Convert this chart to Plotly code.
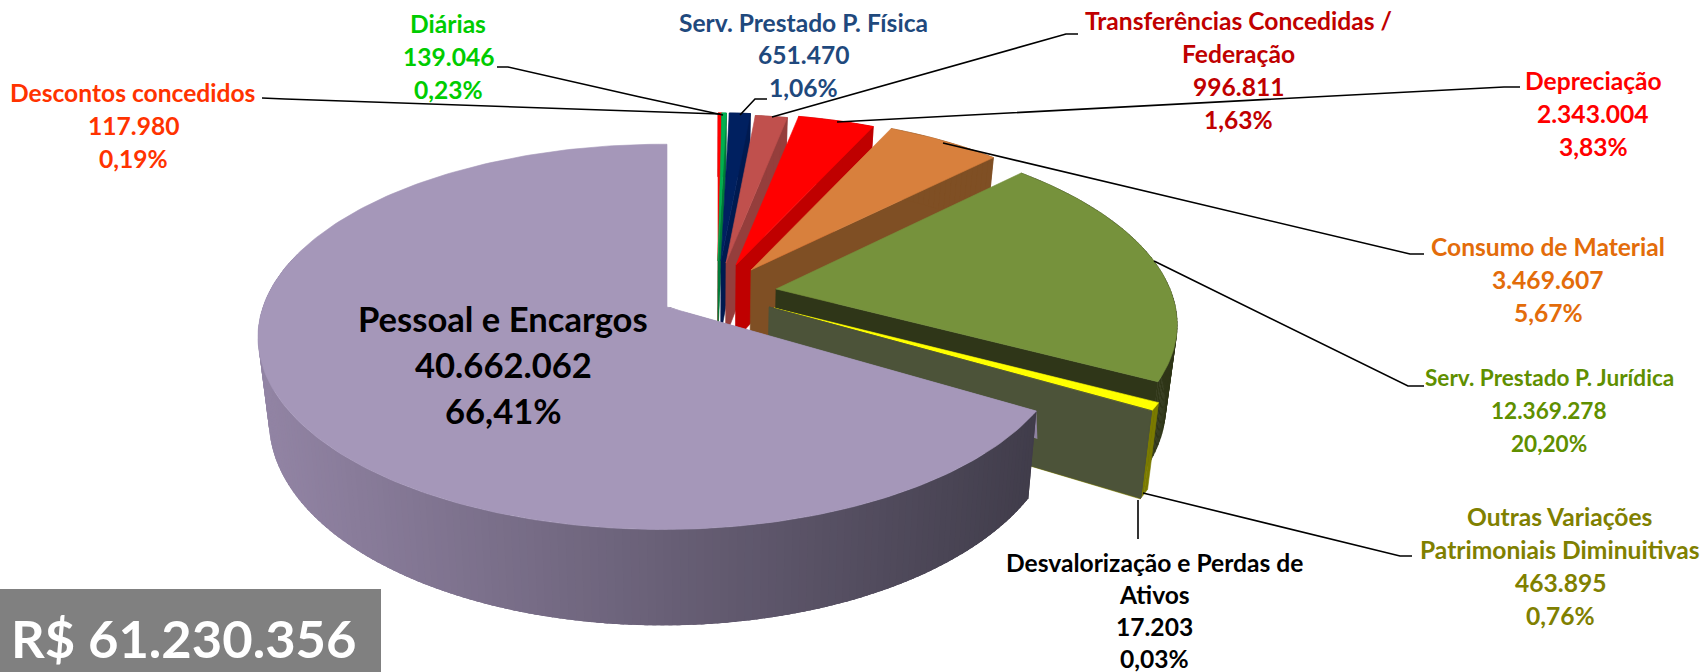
import math
import plotly.graph_objects as go

# ---- data (clockwise from the top of the pie) ----
categories = ["Descontos concedidos", "Diárias", "Serv. Prestado P. Física",
              "Transferências Concedidas / Federação", "Depreciação", "Consumo de Material",
              "Serv. Prestado P. Jurídica", "Outras Variações Patrimoniais Diminuitivas",
              "Desvalorização e Perdas de Ativos", "Pessoal e Encargos"]
values = [117980, 139046, 651470, 996811, 2343004, 3469607, 12369278, 463895, 17203, 40662062]
total_label = "R$ 61.230.356"

# ---- styling: top colour, wall colour, exploded apex (px), perspective scale ----
top_colors = ["#ff0000", "#00b050", "#002060", "#c0504d", "#ff0000", "#d8803d", "#76923c", "#ffff00", "#4c5339", "#a597b9"]
wall_colors = ["#c00000", "#007a38", "#001a50", "#953e3c", "#bf0000", "#7f4f24", "#2f3618", "#7a7a00", "#4c5339", None]
apex_x = [718, 718, 721, 726, 736, 751, 776, 774, 769, 667]
apex_y = [261, 261, 261, 263, 265, 270, 289, 308, 307, 307]
scales = [.91, .91, .91, .91, .93, .95, .98, 1.0, 1.0, 1.0]
x_scales = [1.0, 1.0, 1.0, 1.0, 1.0, 1.0, 1.015, 1.02, 1.035, 1.0]
shears = [0, 0, 0, 0, 0, 0, -14, 0, 0, 0]

label_lines = [["Descontos concedidos"], ["Diárias"], ["Serv. Prestado P. Física"],
               ["Transferências Concedidas /", "Federação"], ["Depreciação"], ["Consumo de Material"],
               ["Serv. Prestado P. Jurídica"], ["Outras Variações", "Patrimoniais Diminuitivas"],
               ["Desvalorização e Perdas de", "Ativos"], ["Pessoal e Encargos"]]
label_colors = ["#ff3300", "#00cc00", "#1f497d", "#c00000", "#ff0000", "#e36c0a", "#5f8f00", "#808000", "#000000", "#000000"]
label_x = [133, 448, 803, 1238, 1593, 1548, 1549, 1560, 1154, 503]
label_y0 = [92, 23, 22, 20, 80, 246, 377, 516, 562, 318]
label_step = [33, 33, 32.5, 33, 33, 33, 33, 33, 32, 46]
label_size = [24.6, 24.6, 24.6, 24.6, 24.6, 24.6, 22.6, 24.6, 24.6, 34.6]

leaders = [
    [(262, 98), (285, 99), (720, 114)],
    [(497, 67), (508, 67), (640, 97), (723, 115)],
    [(767, 99), (755, 99), (740, 115)],
    [(1078, 34), (1066, 34), (772, 117)],
    [(1520, 87), (1504, 87), (837, 122)],
    [(1424, 254), (1410, 254), (943, 143)],
    [(1424, 386), (1408, 386), (1154, 261)],
    [(1412, 556), (1400, 556), (1143, 493)],
    [(1138, 500), (1138, 539)],
]

A, B, K, M = 400.0, 188.0, 0.155, 0.01    # pie projection
H = 81.0                                  # pie thickness
VP_X, VP_L = 708.0, 0.0244                # vanishing of the vertical edges

total = sum(values)


def project(i, theta, r=1.0):
    x, y = r * math.sin(theta), r * math.cos(theta)
    s = 1.0 / (1 + K * y + M * x) * scales[i]
    return apex_x[i] + (A * x * x_scales[i] + shears[i] * y) * s, apex_y[i] - B * y * s, s


def lower(i, theta, r=1.0):
    px, py, s = project(i, theta, r)
    return px + VP_L * (VP_X - px), py + H * s


def poly(fig, pts, color, width=0.6):
    fig.add_trace(go.Scatter(x=[p[0] for p in pts] + [pts[0][0]], y=[p[1] for p in pts] + [pts[0][1]],
                             mode="lines", fill="toself", fillcolor=color,
                             line=dict(color=color, width=width), hoverinfo="skip", showlegend=False))


def mix(c1, c2, t):
    return "rgb(%d,%d,%d)" % tuple(round(a + (b - a) * t) for a, b in zip(c1, c2))


fig = go.Figure()
angle = 0.0
for i, v in enumerate(values):
    a0, a1 = angle, angle + v / total * 2 * math.pi
    angle = a1
    n = max(2, int((a1 - a0) / math.radians(1.0)))
    thetas = [a0 + (a1 - a0) * t / n for t in range(n + 1)]
    top = [project(i, t)[:2] for t in thetas]
    apex = (apex_x[i], apex_y[i])
    apex_low = (apex[0] + VP_L * (VP_X - apex[0]), apex[1] + H * scales[i])
    if wall_colors[i]:
        poly(fig, [apex, top[-1], lower(i, a1), apex_low], wall_colors[i])
        for t0, t1 in zip(thetas[:-1], thetas[1:]):
            poly(fig, [project(i, t0)[:2], project(i, t1)[:2], lower(i, t1), lower(i, t0)], wall_colors[i])
    else:
        # thin sliver of the start wall beside the gap, then the shaded outer wall
        poly(fig, [apex, top[0], (top[0][0] + 1, top[0][1] + 28), (apex[0] + 3, apex[1])], "#8e82a0", 0)
        step = thetas[1] - thetas[0]
        for t0, t1 in zip(thetas[:-1], thetas[1:]):
            if math.cos((t0 + t1) / 2) > 0.3:
                continue
            mx = project(i, (t0 + t1) / 2)[0]
            f = min(1, max(0, (mx - 257) / (1036 - 257)))
            # each facet reaches under the next, so that no seam shows
            t_next = max(t0 - 1.5 * step, a0)
            poly(fig, [project(i, t_next)[:2], project(i, t1)[:2], lower(i, t1), lower(i, t_next)],
                 mix((146, 132, 164), (64, 60, 74), f), 0)
    poly(fig, [apex] + top, top_colors[i])

for pts in leaders:
    fig.add_trace(go.Scatter(x=[p[0] for p in pts], y=[p[1] for p in pts], mode="lines",
                             line=dict(color="#000000", width=1.6), hoverinfo="skip", showlegend=False))

annotations = []
for i, v in enumerate(values):
    lines = label_lines[i] + [f"{v:,}".replace(",", "."), f"{v / total * 100:.2f}".replace(".", ",") + "%"]
    for j, text in enumerate(lines):
        annotations.append(dict(x=label_x[i], y=label_y0[i] + j * label_step[i], text=f"<b>{text}</b>",
                                showarrow=False, xanchor="center", yanchor="middle",
                                font=dict(family="Lato", size=label_size[i], color=label_colors[i])))
annotations.append(dict(x=184, y=637, text=f"<b>{total_label}</b>", showarrow=False,
                        xanchor="center", yanchor="middle",
                        font=dict(family="Lato", size=52.5, color="#ffffff")))

fig.update_layout(
    width=1707, height=672, margin=dict(l=0, r=0, t=0, b=0),
    paper_bgcolor="#ffffff", plot_bgcolor="#ffffff", showlegend=False, annotations=annotations,
    xaxis=dict(range=[0, 1707], visible=False, fixedrange=True),
    yaxis=dict(range=[672, 0], visible=False, fixedrange=True),
    shapes=[dict(type="rect", xref="x", yref="y", x0=0, x1=381, y0=589, y1=672,
                 fillcolor="#808080", line=dict(width=0), layer="below")],
)
fig.write_html("out.html", config=dict(displayModeBar=False),
               post_script="document.body.style.margin='0';document.body.style.overflow='hidden';")
